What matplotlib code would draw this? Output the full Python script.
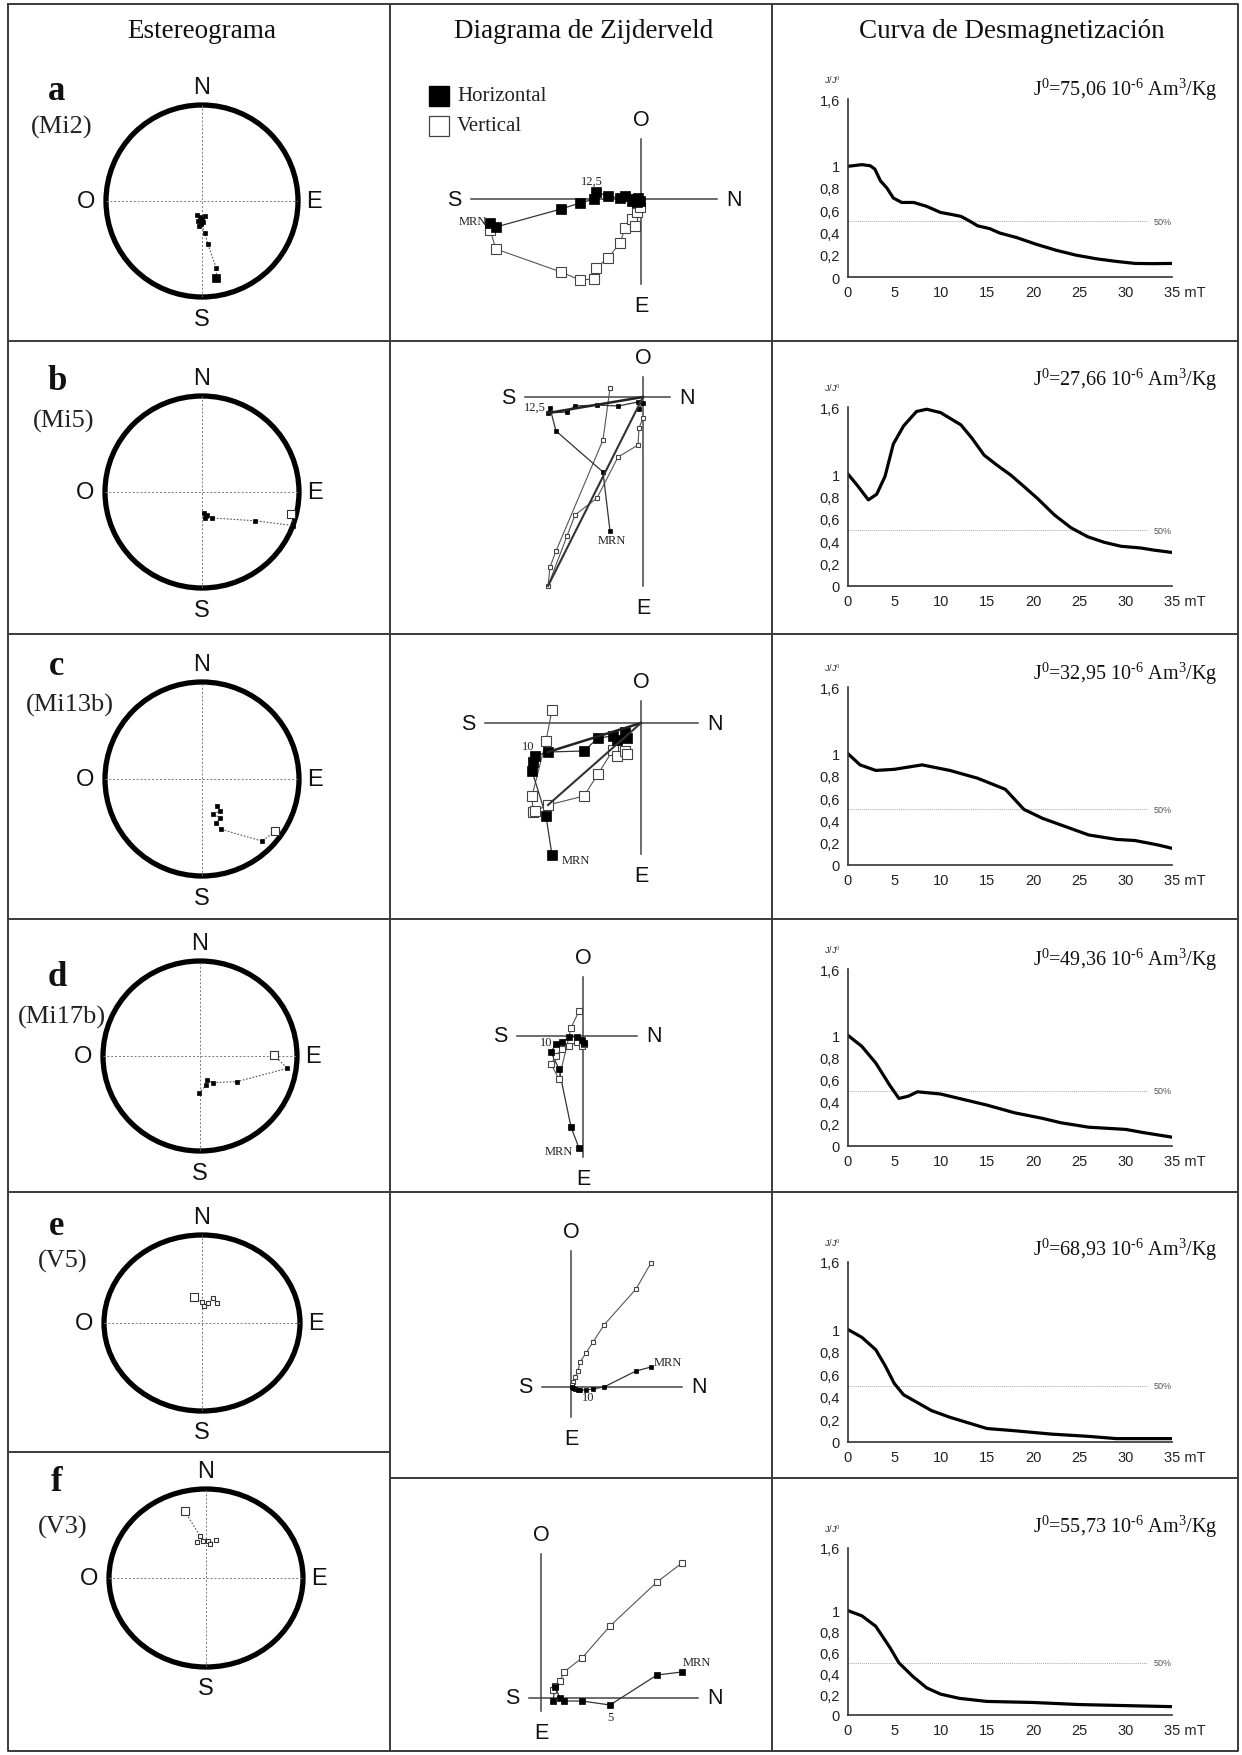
import numpy as np
import matplotlib.pyplot as plt
from matplotlib.patches import Ellipse

W, H = 1242, 1756
SERIF = 'Liberation Serif'
SANS = 'Liberation Sans'
plt.rcParams['mathtext.fontset'] = 'custom'
plt.rcParams['mathtext.rm'] = SERIF
plt.rcParams['mathtext.it'] = SERIF + ':italic'

# ---- data -------------------------------------------------------------
letters = ['a', 'b', 'c', 'd', 'e', 'f']
samples = ['(Mi2)', '(Mi5)', '(Mi13b)', '(Mi17b)', '(V5)', '(V3)']
j0_values = ['75,06', '27,66', '32,95', '49,36', '68,93', '55,73']

# stereonet: equal-area projected positions (east, north); open = upper hemisphere
ster_e = [[0.15, 0.15, 0.06, 0.03, -0.01, -0.03, 0.01, -0.04, 0.03, -0.02, -0.05, 0.00],
          [0.92, 0.94, 0.55, 0.10, 0.04, 0.02, 0.03, 0.05],
          [0.75, 0.62, 0.20, 0.14, 0.19, 0.11, 0.19, 0.15],
          [0.76, 0.90, 0.38, 0.13, 0.07, 0.06, -0.01],
          [-0.08, 0.00, 0.02, 0.06, 0.11, 0.15],
          [-0.22, -0.06, -0.09, -0.03, 0.02, 0.04, 0.10]]
ster_n = [[-0.80, -0.70, -0.45, -0.33, -0.24, -0.26, -0.22, -0.21, -0.16, -0.17, -0.15, -0.19],
          [-0.23, -0.35, -0.30, -0.27, -0.25, -0.22, -0.27, -0.24],
          [-0.54, -0.64, -0.52, -0.45, -0.40, -0.36, -0.33, -0.28],
          [0.01, -0.13, -0.27, -0.28, -0.25, -0.31, -0.39],
          [0.30, 0.24, 0.19, 0.23, 0.28, 0.23],
          [0.75, 0.47, 0.40, 0.42, 0.42, 0.38, 0.43]]
ster_open = [[False] * 12,
             [True] + [False] * 7,
             [True] + [False] * 7,
             [True] + [False] * 6,
             [True] * 6,
             [True] * 7]

# Zijderveld: N component, horizontal (W) and vertical components
zij_n = [[-151, -145, -80, -61, -47, -45, -33, -21, -16, -9, -6, -4, -3, -1],
         [-33, -40, -87, -93, -95, -76, -68, -46, -25, -5, -4, 0],
         [-89, -95, -109, -108, -106, -93, -57, -43, -28, -24, -16, -14],
         [-4, -12, -24, -32, -27, -21, -14, -6, -1, 1],
         [80, 65, 33, 22, 15, 9, 7, 4, 2, 1],
         [141, 116, 69, 41, 23, 19, 14, 12]]
zij_h = [[-24, -28, -10, -4, 0, 7, 3, 1, 3, -2, 0, -3, 1, -2],
         [-134, -75, -34, -11, -16, -15, -9, -8, -9, -5, -12, -6],
         [-132, -93, -48, -39, -33, -29, -28, -15, -13, -17, -9, -15],
         [-112, -91, -33, -16, -8, -6, -1, -1, -4, -7],
         [20, 16, 0, -2, -3, -3, -3, -2, -1, 0],
         [26, 23, -7, -3, -3, 0, 11, -3]]
zij_v = [[-31, -50, -73, -81, -80, -69, -59, -44, -29, -20, -27, -13, -4, -8],
         [9, -43, -154, -170, -189, -139, -118, -101, -60, -48, -31, -21],
         [13, -18, -73, -89, -88, -82, -73, -51, -27, -33, -28, -31],
         [25, 8, -43, -28, -20, -13, -10, -6, -10, -8],
         [124, 98, 62, 45, 34, 25, 16, 10, 5, 2],
         [135, 116, 72, 40, 26, 17, 12, 8]]
zij_step = ['12,5', '12,5', '10', '10', '10', '5']

# demagnetization curves (mT, J/J0)
demag_x = [[0, 1.5, 2.4, 2.9, 3.5, 4.2, 4.9, 5.8, 7.1, 8.5, 10, 11, 12.2, 13.2, 14, 15.3,
            16.4, 18.2, 20.3, 22.5, 24.6, 26.8, 29, 31, 32.9, 35],
           [0, 1.0, 2.2, 3.1, 4.0, 4.9, 6.0, 7.4, 8.5, 10, 12.2, 13.4, 14.7, 16.1, 17.6,
            19, 20.5, 22.3, 24.1, 25.9, 27.7, 29.5, 31.6, 33.1, 35],
           [0, 1.3, 3, 5, 8, 11, 14, 17, 19, 21, 24, 26, 29, 31, 33.5, 35],
           [0, 1.5, 3, 4.5, 5.5, 6.5, 7.5, 10, 12, 15, 18, 21, 23, 26, 30, 32, 35],
           [0, 1.5, 3, 4, 5, 6, 7.5, 9, 11, 13, 15, 18, 22, 26, 29, 35],
           [0, 1.5, 3, 4.5, 5.5, 7, 8.5, 10, 12, 15, 20, 25, 30, 35]]
demag_y = [[0.995, 1.01, 1.0, 0.97, 0.865, 0.8, 0.71, 0.67, 0.67, 0.635, 0.58, 0.565, 0.545,
            0.5, 0.46, 0.435, 0.395, 0.355, 0.295, 0.24, 0.197, 0.164, 0.14, 0.122, 0.12, 0.122],
           [1.0, 0.9, 0.77, 0.82, 0.98, 1.27, 1.43, 1.56, 1.58, 1.55, 1.44, 1.32, 1.17, 1.08,
            0.99, 0.89, 0.78, 0.635, 0.52, 0.44, 0.39, 0.355, 0.34, 0.32, 0.30],
           [1.0, 0.9, 0.85, 0.86, 0.9, 0.85, 0.78, 0.68, 0.5, 0.42, 0.33, 0.27, 0.23, 0.22, 0.18, 0.15],
           [1.0, 0.9, 0.75, 0.55, 0.43, 0.45, 0.49, 0.47, 0.43, 0.37, 0.30, 0.25, 0.21, 0.17, 0.15, 0.12, 0.08],
           [1.0, 0.93, 0.82, 0.68, 0.52, 0.42, 0.35, 0.28, 0.22, 0.17, 0.12, 0.1, 0.07, 0.05, 0.03, 0.03],
           [1.0, 0.95, 0.85, 0.65, 0.5, 0.37, 0.26, 0.2, 0.16, 0.13, 0.12, 0.1, 0.09, 0.08]]

# ---- layout (pixels) --------------------------------------------------
row_lines_left = [342, 635, 920, 1193, 1453]
row_lines_rest = [342, 635, 920, 1193, 1479]
row_top = [50, 342, 635, 920, 1193, 1479]
row_bot = [342, 635, 920, 1193, 1479, 1752]

ster_c = [(202, 202), (202, 493), (202, 780), (200, 1057), (202, 1324), (206, 1579)]
ster_r = [(96, 96), (97, 96), (97, 97), (97, 95), (98, 88), (97, 89)]
letter_y = [92, 381, 667, 978, 1227, 1483]
sample_xy = [(62, 127), (64, 421), (70, 705), (62, 1017), (63, 1261), (63, 1527)]

zij_origin = [(641, 200), (643, 398), (641, 724), (583, 1037), (571, 1388), (541, 1699)]
zij_ext = [(-170, 76, 60, -85), (-118, 27, 20, -189), (-156, 57, 22, -131),
           (-66, 54, 59, -121), (-29, 111, 136, -30), (-12, 157, 144, -13)]
zij_ms = [6.5, 3.5, 6.5, 4.5, 3, 4]
mrn_xy = [(-154, -22, 'right'), (-31, -143, 'center'), (-79, -137, 'left'),
          (-10, -115, 'right'), (83, 25, 'left'), (142, 36, 'left')]
step_xy = [(-49, 18), (-108, -10), (-113, -23), (-37, -6), (17, -10), (69, -19)]

demag_y0 = [278, 587, 866, 1147, 1443, 1716]
demag_y16 = [100, 408, 688, 970, 1263, 1549]
j0_text_y = [90, 380, 674, 960, 1250, 1527]


def add_px_axes(x0, y0, x1, y1):
    return fig.add_axes([x0 / W, 1 - y1 / H, (x1 - x0) / W, (y1 - y0) / H])


fig = plt.figure(figsize=(W / 100, H / 100), dpi=100)

# table frame
bg = add_px_axes(0, 0, W, H)
bg.set_xlim(0, W)
bg.set_ylim(H, 0)
bg.axis('off')
lc, lw = '#3a3a3a', 1.4
bg.plot([8, 1238, 1238, 8, 8], [5, 5, 1752, 1752, 5], color=lc, lw=lw)
bg.plot([390, 390], [5, 1752], color=lc, lw=lw)
bg.plot([772, 772], [5, 1752], color=lc, lw=lw)
for yl in row_lines_left:
    bg.plot([8, 390], [yl, yl], color=lc, lw=lw)
for yl in row_lines_rest:
    bg.plot([390, 1238], [yl, yl], color=lc, lw=lw)

for x, t in [(202, 'Estereograma'), (584, 'Diagrama de Zijderveld'),
             (1012, 'Curva de Desmagnetización')]:
    bg.text(x, 31, t, family=SERIF, fontsize=19.5, ha='center', va='center', color='#111')

for i in range(6):
    # letter and sample name
    bg.text(57, letter_y[i], letters[i], family=SERIF, fontsize=25, fontweight='bold',
            ha='center', va='center', color='#111')
    bg.text(sample_xy[i][0], sample_xy[i][1], samples[i], family=SERIF, fontsize=19,
            ha='center', va='center', color='#222')

    # ---- stereonet ----
    cx, cy = ster_c[i]
    rx, ry = ster_r[i]
    ax = add_px_axes(cx - rx, cy - ry, cx + rx, cy + ry)
    ax.set_xlim(-1, 1)
    ax.set_ylim(-1, 1)
    ax.axis('off')
    ax.add_patch(Ellipse((0, 0), 2, 2, fill=False, lw=3.8, color='black', clip_on=False))
    ax.plot([-1, 1], [0, 0], ls=(0, (2, 2)), color='#777', lw=0.7)
    ax.plot([0, 0], [-1, 1], ls=(0, (2, 2)), color='#777', lw=0.7)
    ax.plot(ster_e[i], ster_n[i], ls=(0, (1.5, 1.5)), color='#555', lw=0.8)
    for k, (xe, yn, op) in enumerate(zip(ster_e[i], ster_n[i], ster_open[i])):
        ms = 6 if k == 0 else 3.5
        if op:
            ax.plot(xe, yn, 's', ms=ms, mfc='white', mec='#333', mew=0.8)
        else:
            ax.plot(xe, yn, 's', ms=ms, mfc='black', mec='black', mew=0.5)
    fx, fy = 16 / rx, 16 / ry
    kw = dict(family=SANS, fontsize=17, ha='center', va='center', color='#111', clip_on=False)
    ax.text(0, 1 + fy + 0.02, 'N', **kw)
    ax.text(0, -1 - fy - 0.06, 'S', **kw)
    ax.text(-1 - fx - 0.04, 0, 'O', **kw)
    ax.text(1 + fx, 0, 'E', **kw)

    # ---- Zijderveld ----
    ox, oy = zij_origin[i]
    ax = add_px_axes(392, row_top[i], 770, row_bot[i])
    ax.set_xlim(392 - ox, 770 - ox)
    ax.set_ylim(oy - row_bot[i], oy - row_top[i])
    ax.axis('off')
    left, right, top, bottom = zij_ext[i]
    ax.plot([left, right], [0, 0], color='#444', lw=1.1)
    ax.plot([0, 0], [bottom, top], color='#444', lw=1.1)
    kw = dict(family=SANS, fontsize=15.5, ha='center', va='center', color='#111')
    ax.text(left - 17, 0, 'S', **kw)
    ax.text(right + 17, 0, 'N', **kw)
    ax.text(0, top + 19, 'O', **kw)
    ax.text(0, bottom - 22, 'E', **kw)
    ms = zij_ms[i]
    ax.plot(zij_n[i], zij_v[i], '-', color='#555', lw=0.8)
    ax.plot(zij_n[i], zij_h[i], '-', color='#333', lw=0.9)
    ax.plot(zij_n[i], zij_v[i], 's', ms=ms, mfc='white', mec='#444', mew=0.8)
    ax.plot(zij_n[i], zij_h[i], 's', ms=ms, mfc='black', mec='black', mew=0.5)
    if i in (1, 2):
        k = 4 if i == 1 else 5
        ax.plot([zij_n[i][k], 0], [zij_h[i][k], 0], color='#222', lw=1.8)
        ax.plot([zij_n[i][k], 0], [zij_v[i][k], 0], color='#333', lw=1.5)
    mx, my, mha = mrn_xy[i]
    ax.text(mx, my, 'MRN', family=SERIF, fontsize=9, ha=mha, va='center', color='#222')
    ax.text(step_xy[i][0], step_xy[i][1], zij_step[i], family=SERIF, fontsize=9,
            ha='center', va='center', color='#222')

    # ---- demagnetization curve ----
    ax = add_px_axes(848, demag_y16[i], 1172, demag_y0[i])
    ax.set_xlim(0, 35)
    ax.set_ylim(0, 1.6)
    ax.patch.set_alpha(0)
    for s in ('top', 'right'):
        ax.spines[s].set_visible(False)
    for s in ('left', 'bottom'):
        ax.spines[s].set_color('#333')
        ax.spines[s].set_linewidth(1.2)
    ax.set_yticks([0, 0.2, 0.4, 0.6, 0.8, 1, 1.6])
    ax.set_yticklabels(['0', '0,2', '0,4', '0,6', '0,8', '1', '1,6'])
    ax.set_xticks([0, 5, 10, 15, 20, 25, 30])
    ax.set_xticklabels(['0', '5', '10', '15', '20', '25', '30'])
    ax.tick_params(length=0, labelsize=10.5, colors='#222', pad=6)
    for lab in ax.get_xticklabels() + ax.get_yticklabels():
        lab.set_family(SANS)
    ax.annotate('35 mT', (35, 0), xytext=(-5.5, -6), textcoords='offset points',
                ha='left', va='top', family=SANS, fontsize=10.5, color='#222',
                annotation_clip=False)
    ax.plot([0, 32.3], [0.5, 0.5], ls=(0, (1, 1)), color='#aaa', lw=0.7)
    ax.text(33, 0.5, '50%', family=SANS, fontsize=6.5, color='#555', va='center')
    ax.plot(demag_x[i], demag_y[i], color='black', lw=2.3, solid_joinstyle='round')
    ax.annotate(r'J/J$^{0}$', (0, 1.6), xytext=(-11, 15), textcoords='offset points',
                family=SANS, fontsize=6.5, ha='center', va='center', color='#333',
                annotation_clip=False)
    bg.text(1217, j0_text_y[i],
            r'J$^{0}$=' + j0_values[i] + r' 10$^{\text{-6}}$ Am$^{3}$/Kg',
            family=SERIF, fontsize=14.5, ha='right', va='center', color='#111')

# legend of the Zijderveld diagram (row a)
ax_leg = add_px_axes(392, 50, 770, 342)
ax_leg.set_xlim(392, 770)
ax_leg.set_ylim(342, 50)
ax_leg.axis('off')
ax_leg.plot([439], [97], 's', ms=15, mfc='black', mec='black')
ax_leg.plot([439], [127], 's', ms=15, mfc='white', mec='#444', mew=0.9)
ax_leg.text(457, 97, 'Horizontal', family=SERIF, fontsize=15, va='center', color='#222')
ax_leg.text(457, 127, 'Vertical', family=SERIF, fontsize=15, va='center', color='#222')

fig.savefig('out.png', dpi=100)
